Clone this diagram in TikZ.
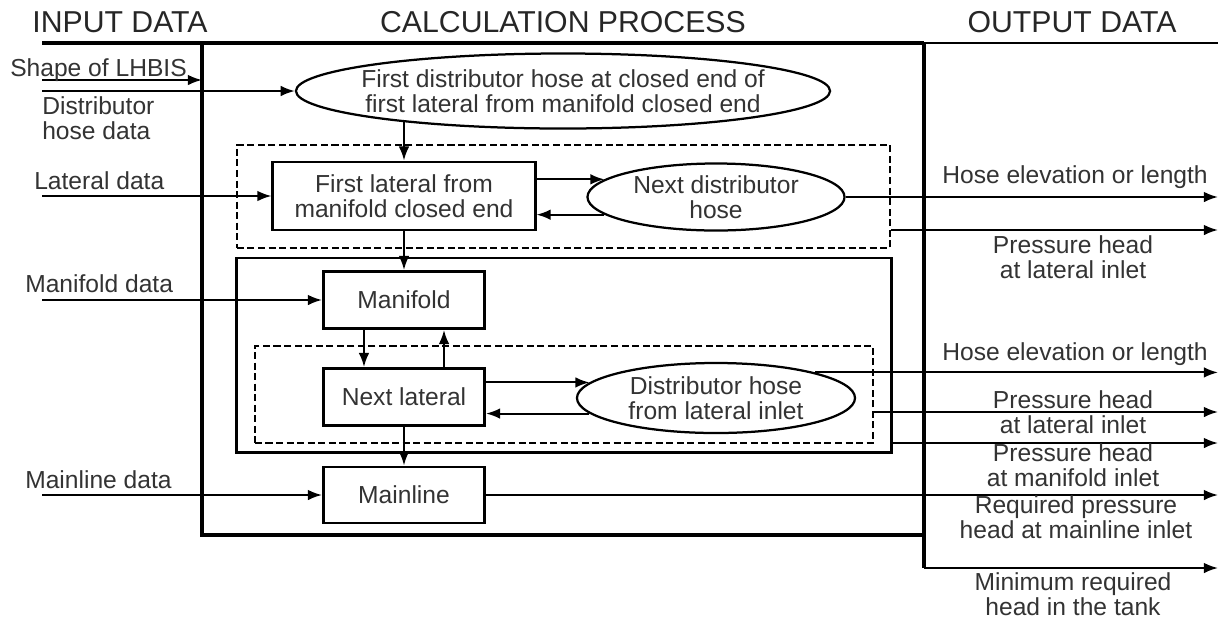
\documentclass[tikz,border=0pt]{standalone}
\usepackage{fontspec}
\setmainfont{Liberation Sans}
\usepackage{tikz}
\usetikzlibrary{calc}
\usetikzlibrary{arrows.meta}
\usetikzlibrary{shapes}
\usetikzlibrary{shapes.geometric}
\tikzset{>={Latex[length=10pt,width=7.5pt]}}
\tikzstyle{proc} = [rectangle, draw, line width=2.1pt, inner sep=0, align=center, text=black!80, font=\fontsize{17.5}{18}\selectfont]
\tikzstyle{hose} = [ellipse, draw, line width=1.6pt, inner sep=0, align=center, text=black!80, font=\fontsize{17.5}{18}\selectfont]
\tikzstyle{loopbox} = [rectangle, draw, dash pattern=on 5pt off 2.5pt, line width=1pt, inner sep=0]
\tikzstyle{lbl} = [draw=none, align=center, inner sep=0, text=black!80, font=\fontsize{17.5}{18}\selectfont]
\tikzstyle{head} = [draw=none, inner sep=0, text=black!85, font=\fontsize{21.5}{24}\selectfont]
\tikzstyle{flow} = [->, line width=1.4pt]
\tikzstyle{frame} = [line width=2.8pt]

\begin{document}
\begin{tikzpicture}[x=0.025cm, y=-0.025cm]
\useasboundingbox (0,0) rectangle (1225,621);
\node [head] (hIn) at (120,22) {INPUT DATA};
\node [head] (hCalc) at (563,22) {CALCULATION PROCESS};
\node [head] (hOut) at (1072,22) {OUTPUT DATA};

% frame of the calculation part
\coordinate (frameNW) at (202,43);
\coordinate (frameNE) at (924,43);
\coordinate (frameSE) at (924,568);
\draw [frame] (42,43) -- (frameNE);
\draw [line width=1.6pt] (frameNE) -- (1218,43);
\draw [frame] (frameNW) -- (202,535) -- (924,535);
\draw [frame] (frameNE) -- (frameSE);

% loops
\node [loopbox, minimum width=16.325cm, minimum height=2.575cm] (loopA) at (563.5,196.5) {};
\node [proc, minimum width=16.35cm, minimum height=4.85cm] (loopB) at (564,355) {};
\node [loopbox, minimum width=15.45cm, minimum height=2.425cm] (loopC) at (564,394.5) {};

% steps
\node [hose, inner xsep=-0.5cm, minimum width=13.35cm, minimum height=1.875cm] (hoseA) at (563,91) {First distributor hose at closed end of\\first lateral from manifold closed end};
\node [proc, minimum width=6.55cm, minimum height=1.7cm] (latA) at (404,196) {First lateral from\\manifold closed end};
\node [hose, minimum width=6.425cm, minimum height=1.675cm] (hoseB) at (716,197) {Next distributor\\hose};
\node [proc, minimum width=4.025cm, minimum height=1.425cm] (manif) at (404,300) {Manifold};
\node [proc, minimum width=4.025cm, minimum height=1.425cm] (nextLat) at (404,397) {Next lateral};
\node [hose, minimum width=6.95cm, minimum height=1.75cm] (hoseC) at (716,398) {Distributor hose\\from lateral inlet};
\node [proc, minimum width=4.025cm, minimum height=1.4cm] (mainL) at (404,495) {Mainline};

\draw [flow] (latA.north |- hoseA.190.7) -- (latA.north);
\draw [flow] (latA.east |- hoseB.171) -- (hoseB.171);
\draw [flow] (hoseB.189) -- (latA.east |- hoseB.189);
\draw [flow] (latA.south) -- (manif.north);
\draw [flow] ([xshift=-1cm]manif.south) -- ([xshift=-1cm]nextLat.north);
\draw [flow] ([xshift=1cm]nextLat.north) -- ([xshift=1cm]manif.south);
\draw [flow] (nextLat.east |- hoseC.173) -- (hoseC.173);
\draw [flow] (hoseC.187) -- (nextLat.east |- hoseC.187);
\draw [flow] (nextLat.south) -- (mainL.north);

% input data
\coordinate (inShape) at (42,80);
\coordinate (inDist) at (42,91);
\coordinate (inLat) at (42,196);
\coordinate (inMan) at (42,300);
\coordinate (inMain) at (42,495);
\draw [flow] (inShape) -- (inShape -| frameNW);
\draw [flow] (inDist) -- (hoseA.west);
\draw [flow] (inLat) -- (latA.west);
\draw [flow] (inMan) -- (manif.west);
\draw [flow] (inMain) -- (mainL.west);
\node [lbl, anchor=west] (tShape) at (10,70) {Shape of LHBIS};
\node [lbl, anchor=west, align=left] (tDist) at (42,118) {Distributor\\hose data};
\node [lbl, anchor=west] (tLat) at (34,181) {Lateral data};
\node [lbl, anchor=west] (tMan) at (25,284) {Manifold data};
\node [lbl, anchor=west] (tMain) at (25,480) {Mainline data};

% output data
\coordinate (outEnd) at (1218,0);
\coordinate (outB) at (1218,230);
\coordinate (outD) at (1218,412);
\coordinate (outE) at (1218,443);
\coordinate (outG) at (1218,568);
\draw [flow] (hoseB.east) -- (hoseB.east -| outEnd);
\draw [flow] (loopA.east |- outB) -- (outB);
\draw [flow] (hoseC.north east) -- (hoseC.north east -| outEnd);
\draw [flow] (loopC.east |- outD) -- (outD);
\draw [flow] (loopB.east |- outE) -- (outE);
\draw [flow] (mainL.east) -- (mainL.east -| outEnd);
\draw [flow] (frameSE) -- (outG);
\node [lbl] (tElevA) at (1075,177) {Hose elevation or length};
\node [lbl] (tLatA) at (1073,257) {Pressure head\\at lateral inlet};
\node [lbl] (tElevB) at (1075,354) {Hose elevation or length};
\node [lbl] (tLatB) at (1073,412) {Pressure head\\at lateral inlet};
\node [lbl] (tManB) at (1073,465) {Pressure head\\at manifold inlet};
\node [lbl] (tMainB) at (1076,517) {Required pressure\\head at mainline inlet};
\node [lbl] (tTank) at (1073,594) {Minimum required\\head in the tank};
\end{tikzpicture}
\end{document}
